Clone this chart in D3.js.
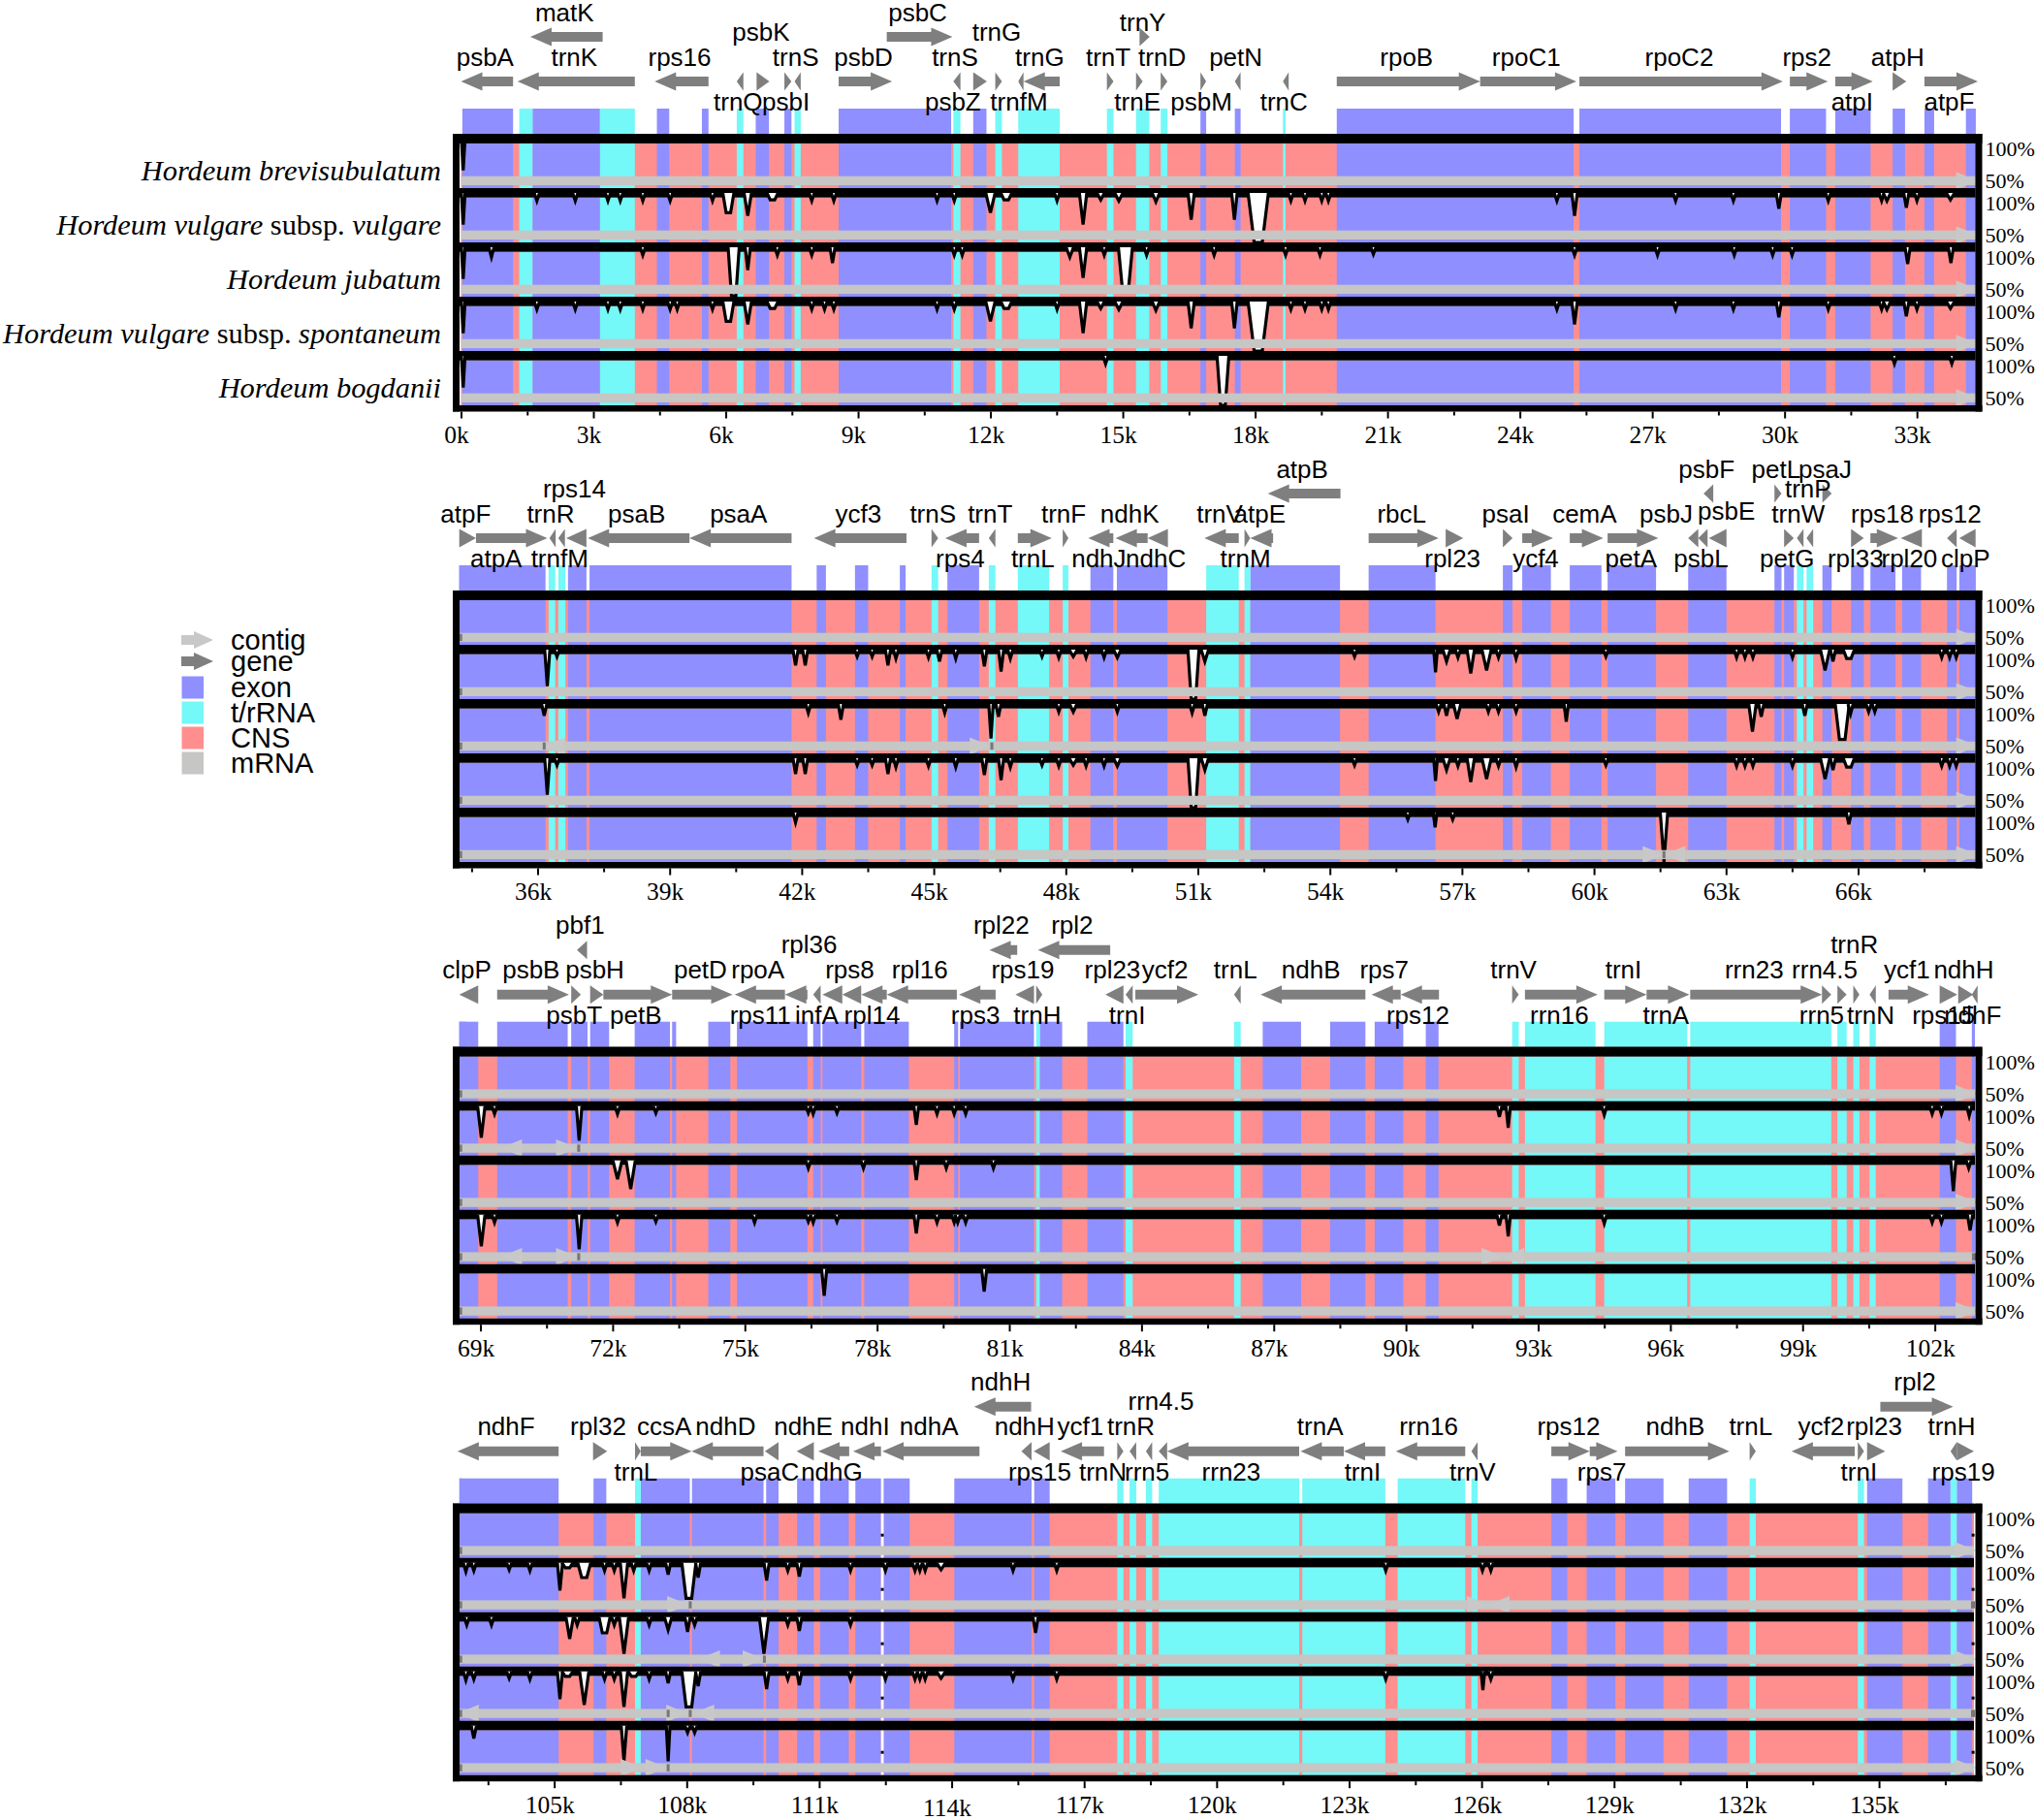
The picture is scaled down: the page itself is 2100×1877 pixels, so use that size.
<!DOCTYPE html>
<html><head><meta charset="utf-8">
<script src="https://cdnjs.cloudflare.com/ajax/libs/d3/7.8.5/d3.min.js"></script>
<style>html,body{margin:0;padding:0;background:#fff}svg{display:block}</style>
</head><body><svg id="c" width="2100" height="1877"></svg>
<script>
const speciesLabels=[
 [["Hordeum brevisubulatum","i"]],
 [["Hordeum vulgare","i"],[" subsp. ","n"],["vulgare","i"]],
 [["Hordeum jubatum","i"]],
 [["Hordeum vulgare","i"],[" subsp. ","n"],["spontaneum","i"]],
 [["Hordeum bogdanii","i"]]
];
const legendItems=["contig","gene","exon","t/rRNA","CNS","mRNA"];
const panelDomains=[[0,34.33],[34.22,68.67],[68.52,102.91],[102.85,137.15]];

const exons=[[0.03,1.18],[1.62,3.15],[4.44,4.72],[5.46,5.61],[6.68,6.98],[7.33,7.49],[8.56,11.11],[11.61,11.91],[16.76,16.89],[17.54,17.67],[19.85,25.22],[25.35,29.92],[30.12,30.94],[31.15,31.95],[32.45,32.73],[33.17,33.39],[34.11,34.33],
[34.22,36.18],[36.69,37.11],[37.18,41.77],[42.34,42.55],[43.21,43.51],[44.23,44.36],[45.31,46.03],[48.56,49.08],[49.16,50.31],[52.19,54.23],[54.88,56.40],[57.93,58.15],[58.37,59.02],[59.45,60.17],[60.31,61.41],[62.14,63.01],[64.10,64.26],[64.32,64.54],[65.19,65.40],[65.84,66.13],[66.28,66.85],[67.00,67.43],[68.02,68.24],[68.30,68.67],
[68.52,68.95],[69.38,70.98],[71.06,71.43],[71.49,71.92],[72.50,73.30],[73.35,73.44],[74.17,74.67],[74.82,76.42],[76.55,76.72],[76.76,77.64],[77.71,78.72],[79.75,79.84],[79.88,81.56],[81.69,82.20],[82.77,83.59],[86.75,87.62],[88.28,89.08],[89.29,89.94],[90.45,90.74],[102.11,102.48],[102.84,102.91],
[102.86,105.10],[105.89,106.18],[106.96,108.07],[108.12,109.74],[109.80,110.08],[110.50,110.88],[111.02,111.67],[111.82,112.40],[112.46,113.05],[114.06,115.81],[115.87,116.22],[127.58,127.94],[128.38,129.03],[129.25,130.12],[130.69,131.56],[134.73,135.53],[136.11,136.62],[136.76,137.11]];
const rnas=[[1.32,1.62],[3.15,3.94],[6.25,6.40],[7.56,7.70],[11.16,11.32],[12.11,12.26],[12.63,13.57],[14.64,14.79],[15.30,15.60],[15.86,16.01],[18.63,18.69],
[36.25,36.40],[36.47,36.63],[44.95,45.10],[46.25,46.40],[46.91,47.62],[47.93,48.06],[51.19,51.93],[52.06,52.19],[64.61,64.76],[64.83,64.98],
[81.61,81.69],[83.64,83.80],[86.10,86.25],[92.41,92.56],[92.70,94.30],[94.50,96.38],[96.45,99.65],[99.79,100.0],[100.15,100.29],[100.52,100.66],
[106.83,106.96],[117.75,117.89],[118.03,118.18],[118.40,118.54],[118.69,121.87],[121.94,123.82],[124.10,125.63],[125.77,125.91],[132.07,132.21],[134.52,134.66],[136.62,136.76]];
const gaps=[[112.40,112.46]];
const darkSpots=[112.43,137.13];

/* name, start, end, strand, label row */
const genesP1=[["psbA",0,1.18,"l","above"],["trnK",1.28,3.94,"l","above"],["matK",1.57,3.21,"l","top"],["rps16",4.39,5.61,"l","above"],["trnQ",6.25,6.40,"l","below"],["psbK",6.70,6.99,"r","mid"],["psbI",7.33,7.49,"r","below"],["trnS",7.56,7.70,"l","above"],["psbD",8.56,9.77,"r","above"],["psbC",9.65,11.14,"r","top"],["trnS",11.16,11.32,"l","above"],["psbZ",11.61,11.92,"r","below"],["trnG",12.11,12.26,"r","mid"],["trnfM",12.63,12.75,"l","below"],["trnG",12.75,13.57,"l","above"],["trnT",14.64,14.79,"r","above"],["trnE",15.30,15.45,"r","below"],["trnY",15.38,15.61,"r","high"],["trnD",15.86,16.01,"r","above"],["psbM",16.76,16.89,"r","below"],["petN",17.54,17.67,"l","above"],["trnC",18.63,18.76,"l","below"],["rpoB",19.85,23.1,"r","above"],["rpoC1",23.1,25.28,"r","above"],["rpoC2",25.35,29.96,"r","above"],["rps2",30.12,30.98,"r","above"],["atpI",31.15,32.0,"r","below"],["atpH",32.45,32.76,"r","above"],["atpF",33.17,34.38,"r","below"]];
const genesP2=[["atpF",34.22,34.60,"r","above"],["atpA",34.60,36.22,"r","below"],["trnR",36.27,36.41,"l","above"],["trnfM",36.47,36.62,"l","below"],["rps14",36.65,37.11,"l","mid"],["psaB",37.14,39.45,"l","above"],["psaA",39.45,41.77,"l","above"],["ycf3",42.28,44.38,"l","above"],["trnS",44.95,45.10,"r","above"],["rps4",45.26,46.03,"l","below"],["trnT",46.25,46.40,"l","above"],["trnL",46.91,47.68,"r","below"],["trnF",47.93,48.06,"r","above"],["ndhJ",48.51,49.08,"l","below"],["ndhK",49.13,49.86,"l","above"],["ndhC",49.86,50.32,"l","below"],["trnV",51.15,51.93,"l","above"],["trnM",52.06,52.19,"r","below"],["atpE",52.19,52.71,"l","above"],["atpB",52.59,54.24,"l","top"],["rbcL",54.88,56.47,"r","above"],["rpl23",56.63,57.03,"r","below"],["psaI",57.93,58.15,"r","above"],["ycf4",58.37,59.07,"r","below"],["cemA",59.45,60.21,"r","above"],["petA",60.31,61.46,"r","below"],["psbJ",62.14,62.37,"l","above"],["psbL",62.37,62.58,"l","below"],["psbE",62.61,63.01,"l","above"],["psbF",62.49,62.71,"l","top"],["petL",64.10,64.26,"r","top"],["petG",64.32,64.54,"r","below"],["trnW",64.61,64.76,"l","above"],["trnP",64.83,64.98,"l","mid"],["psaJ",65.19,65.40,"r","top"],["rpl33",65.84,66.13,"r","below"],["rps18",66.28,66.91,"r","above"],["rpl20",66.97,67.45,"l","below"],["rps12",68.02,68.24,"l","above"],["clpP",68.30,68.67,"l","below"]];
const genesP3=[["clpP",68.52,68.95,"l","above"],["psbB",69.38,71.01,"r","above"],["psbT",71.06,71.28,"r","below"],["pbf1",71.19,71.42,"l","top"],["psbH",71.49,71.79,"r","above"],["petB",71.79,73.35,"r","below"],["petD",73.35,74.72,"r","above"],["rpoA",74.77,75.91,"l","above"],["rps11",75.91,76.42,"l","below"],["rpl36",76.55,76.72,"l","mid"],["infA",76.76,77.21,"l","below"],["rps8",77.21,77.64,"l","above"],["rpl14",77.64,78.22,"l","below"],["rpl16",78.22,79.81,"l","above"],["rps3",79.86,80.69,"l","below"],["rpl22",80.55,81.18,"l","top"],["rpl2",81.65,83.29,"l","top"],["rps19",81.14,81.56,"l","above"],["trnH",81.61,81.75,"r","below"],["rpl23",83.18,83.59,"l","above"],["trnI",83.64,83.80,"l","below"],["ycf2",83.86,85.29,"r","above"],["trnL",86.10,86.25,"l","above"],["ndhB",86.70,89.08,"l","above"],["rps7",89.22,89.88,"l","above"],["rps12",89.88,90.75,"l","below"],["trnV",92.41,92.56,"r","above"],["rrn16",92.70,94.35,"r","below"],["trnI",94.50,95.46,"r","above"],["trnA",95.46,96.43,"r","below"],["rrn23",96.45,99.44,"r","above"],["rrn4.5",99.44,99.65,"r","above"],["rrn5",99.79,100.0,"r","below"],["trnR",100.15,100.29,"r","mid"],["trnN",100.52,100.66,"l","below"],["ycf1",100.95,101.87,"r","above"],["rps15",102.11,102.51,"r","below"],["ndhH",102.53,102.87,"r","above"],["ndhF",102.84,102.97,"l","below"]];
const genesP4=[["ndhF",102.81,105.10,"l","above"],["rpl32",105.88,106.2,"r","above"],["trnL",106.83,106.96,"r","below"],["ccsA",106.96,108.11,"r","above"],["ndhD",108.11,109.74,"l","above"],["psaC",109.77,110.08,"l","below"],["ndhE",110.49,110.88,"l","above"],["ndhG",110.98,111.68,"l","below"],["ndhI",111.77,112.40,"l","above"],["ndhA",112.43,114.63,"l","above"],["ndhH",114.51,115.80,"l","top"],["ndhH",115.58,115.81,"l","above"],["rps15",115.86,116.22,"l","below"],["ycf1",116.47,117.45,"l","above"],["trnN",117.75,117.89,"r","below"],["trnR",118.03,118.18,"l","above"],["rrn5",118.40,118.54,"l","below"],["rrn4.5",118.69,118.88,"l","mid"],["rrn23",118.88,121.87,"l","below"],["trnA",121.9,122.88,"l","above"],["trnI",122.88,123.82,"l","below"],["rrn16",124.06,125.63,"l","above"],["trnV",125.77,125.91,"l","below"],["rps12",127.58,128.45,"r","above"],["rps7",128.45,129.08,"r","below"],["ndhB",129.25,131.61,"r","above"],["trnL",132.07,132.21,"r","above"],["ycf2",133.02,134.45,"l","above"],["trnI",134.52,134.66,"r","below"],["rpl23",134.73,135.14,"r","above"],["rpl2",135.03,136.68,"r","top"],["trnH",136.62,136.76,"l","above"],["rps19",136.76,137.15,"r","below"]];
const labelNudge={ "psbZ|11.61":[-26,0],"atpA|34.6":[-14,0],"psbJ|62.14":[-26,0],"psbE|62.61":[11,-3],"rps11|75.91":[-35,0],"rpl36|76.55":[-6,0],"infA|76.76":[-14,0],"rrn5|99.79":[-19,0],"trnN|117.75":[-16,0],"rps15|102.11":[-3,0] };

/* conservation dips: position (kb), lowest identity (%), width (kb) */
const dipsBrevi=[[0.05,68,.1]];
const dipsVulgare=[[0.05,68,.1],[1.72],[2.59],[3.33],[3.61],[4.12],[4.74],[5.70],[6.06,80,.3],[6.50,77,.2],[7.06,93,.3],[7.95],[8.45],[10.79],[11.18],[12.0,80,.25],[12.36,93,.3],[13.51],[14.10,68,.2],[14.5,93,.2],[14.91,92,.22],[15.75,91,.2],[16.55,73,.17],[17.53,73,.15],[18.07,50,.55],[18.81],[19.13],[19.51],[19.66],[24.84],[25.24,77,.15],[27.53],[28.84],[29.87,84],[30.99],[32.2],[32.32,92,.2],[32.76,85],[33.0],[33.76,93,.22],
[36.22,63,.14],[36.44,93],[41.86,84],[42.08,84],[43.26,93],[43.6,93],[43.96,84],[44.14,91],[44.88],[45.13,88],[45.5,91],[46.15,83],[46.53,78],[46.74,91],[47.46,93],[47.84],[48.17,93,.22],[48.46],[48.87],[49.17,92,.2],[50.9,50,.3],[51.16,88,.2],[54.56,93],[56.4,77,.1],[56.65,88,.2],[56.91,92],[57.2,76,.2],[57.56,79,.25],[57.83],[58.23,91],[60.27,93],[63.24],[63.43],[63.61],[64.51],[65.25,79,.25],[65.43,88],[65.79,91,.3],[67.9],[68.08],[68.23],
[69.02,68,.2],[69.32],[71.24,65,.15],[72.11],[72.98,93],[76.44,93],[76.55],[77.09,93],[78.89,81,.13],[79.36],[79.75],[80.01],[92.12,89],[92.32,78,.12],[94.5,91],[101.94],[102.15],[102.78,90],
[103.0,91],[103.18,92],[103.98,93],[104.45],[105.13,72,.14],[105.3,95,.3],[105.68,85,.35],[106.14],[106.36],[106.58,64,.2],[106.8],[107.15],[107.58,88],[108.05,64,.38],[108.26,85],[109.81,82],[110.29],[110.55,86],[111.71],[112.5],[113.17],[113.28],[113.4],[113.76,93,.25],[115.39],[116.38],[123.83],[126.02],[126.21]];
const dipsJubatum=[[0.05,68,.1],[0.69,90],[4.12],[6.18,51,.3],[6.5,77],[7.17],[7.95],[8.42,84],[11.18],[11.36],[13.8,90,.2],[14.10,69,.2],[14.58],[15.06,55,.38],[15.54],[17.07],[18.69],[19.47],[20.68,93],[25.24],[27.12],[28.86],[29.73],[30.17],[32.79,83],[33.77,84],
[36.15,88],[42.15,91],[42.89,84],[45.25,91],[46.3,65,.12],[46.47,87],[47.84],[48.17,92,.2],[49.17],[50.87,91],[51.16,88],[56.47],[56.65,88],[56.89,85,.2],[57.6],[57.83],[58.23],[59.37,82,.12],[63.6,72,.2],[63.8,87],[64.79,88],[65.64,64,.38],[65.83,90],[66.24],[66.38],
[72.11,81,.25],[72.41,71,.25],[76.44],[77.69],[78.89,80,.13],[79.57],[80.64],[102.42,69,.14],[102.77],
[103.02],[103.58],[105.35,78,.2],[105.52],[106.14,84,.3],[106.36],[106.58,63,.25],[107.15],[107.58,87,.2],[108.02,85],[108.18],[109.75,63,.25],[110.29],[110.55,86],[111.71],[115.9,84]];
const dipsSpontaneum=[[0.05,68,.1],[1.72],[2.59],[3.33],[3.61],[4.12],[4.74],[4.9],[5.70],[6.06,80,.3],[6.50,77,.2],[7.06,93,.3],[7.95],[8.24],[8.45],[10.79],[11.18],[12.0,80,.25],[12.36,93,.3],[13.51],[14.10,68,.2],[14.5,93,.2],[14.91,92,.22],[15.75,91,.2],[16.55,73,.17],[17.53,73,.15],[18.07,50,.55],[18.81],[19.13],[19.51],[19.66],[24.84],[25.24,77,.15],[27.53],[28.84],[29.87,84],[30.99],[32.2],[32.32,92,.2],[32.76,85],[33.0],[33.76,93,.22],
[36.22,63,.14],[36.44,93],[41.86,84],[42.08,84],[43.26,93],[43.6,93],[43.96,84],[44.14,91],[44.88],[45.5,91],[46.15,83],[46.53,78],[46.74,91],[47.46,93],[47.84],[48.17,93,.22],[48.46],[48.87],[49.17,92,.2],[50.9,50,.3],[51.16,88,.2],[54.56,93],[56.4,77,.1],[56.65,88,.2],[56.91,92],[57.2,76,.2],[57.56,79,.25],[57.83],[58.23,91],[60.27,93],[63.24],[63.43],[63.61],[64.51],[65.25,79,.25],[65.43,88],[65.79,91,.3],[67.9],[68.08],[68.23],
[69.02,68,.2],[69.32],[71.24,65,.15],[72.11],[72.98,93],[75.22],[76.44,93],[76.55],[77.09,93],[78.89,81,.13],[79.36],[79.75],[79.83],[80.01],[92.12,89],[92.32,78,.12],[94.5,91],[101.94],[102.15],[102.8,84],
[103.0,91],[103.18,92],[103.98,93],[104.45],[105.13,72,.14],[105.3,95,.3],[105.68,66,.25],[106.14],[106.36],[106.58,64,.2],[106.8,95,.3],[107.15],[107.58,88],[108.05,64,.38],[108.26,85],[109.81,82],[110.29],[110.55,86],[111.71],[112.5],[113.17],[113.28],[113.4],[113.76,93,.25],[115.39],[116.38],[123.83],[126.03,81,.1],[126.21]];
const dipsBogdanii=[[0.05,68,.1],[14.61],[17.27,50,.32],[32.49],[33.79],[41.86,90],[55.77,93],[56.39,85,.1],[56.79,93],[61.59,50,.2],[65.79,88],[76.8,73,.14],[80.43,77,.14],[103.18,87],[106.58,64,.15],[107.58,64,.1],[108.02,93],[108.18,93]];
const allDips=[dipsBrevi,dipsVulgare,dipsJubatum,dipsSpontaneum,dipsBogdanii];

/* contig breaks: panel, position (kb), kind: r = head ends here, l = head starts here, t = end tick */
const contigBreaks=[[],
 [[2,71.2,"r"],[2,69.46,"l"],[2,71.23,"t"],[3,108.08,"t"],[3,108.04,"r"],[3,126.15,"r"],[3,126.15,"l"]],
 [[1,36.15,"t"],[1,36.14,"l"],[1,46.3,"r"],[1,46.32,"t"],[3,108.27,"l"],[3,109.75,"r"],[3,109.76,"t"]],
 [[2,71.2,"r"],[2,69.46,"l"],[2,71.23,"t"],[2,92.2,"r"],[2,92.2,"l"],[3,102.81,"l"],[3,107.58,"t"],[3,108.02,"r"],[3,108.08,"t"],[3,108.14,"l"]],
 [[1,61.59,"r"],[1,61.59,"l"],[1,61.59,"t"],[3,106.99,"r"],[3,107.55,"r"],[3,107.58,"t"]]
];
const endTickTracks=["2-3","3-1","3-3"];
const axisTickStep=1.5;

const COL={exon:"#8f8fff",rna:"#74f8f8",cns:"#ff8f8f",mrna:"#c6c6c4",gene:"#7f7f7f",contig:"#c8c8c8"};
const SANS="'Liberation Sans',Arial,sans-serif", SERIF="'Liberation Serif','Times New Roman',serif";
const panelTops=[138,609,1079.7,1550.7];
const panelRanges=[[475.5,2037.7],[473.7,2037.7],[473.7,2037],[473.7,2036]];
const frameL=467,frameR=2044.5,trackH=56,nTracks=5,bandH=9.7;
const labelRows={below:33,above:79.5,mid:105.5,high:115.5,top:125.5};
const allGenes=[genesP1,genesP2,genesP3,genesP4];

const svg=d3.select("#c");
svg.append("rect").attr("width",2100).attr("height",1877).attr("fill","#fff");

function arrowPath(x0,x1,cy,dir,barH=10,headH=19,headL=22){
  const w=Math.max(x1-x0,1), hl=Math.min(headL,w);
  const pts = dir==="r"
   ? [[x0,cy-barH/2],[x0+w-hl,cy-barH/2],[x0+w-hl,cy-headH/2],[x0+w,cy],[x0+w-hl,cy+headH/2],[x0+w-hl,cy+barH/2],[x0,cy+barH/2]]
   : [[x0+w,cy-barH/2],[x0+hl,cy-barH/2],[x0+hl,cy-headH/2],[x0,cy],[x0+hl,cy+headH/2],[x0+hl,cy+barH/2],[x0+w,cy+barH/2]];
  return d3.line()(pts)+"Z";
}

panelDomains.forEach((dom,p)=>{
  const top=panelTops[p];
  const x=d3.scaleLinear().domain(dom).range(panelRanges[p]);
  const g=svg.append("g").attr("class","panel");
  const inDom=d=>d[1]>dom[0]&&d[0]<dom[1];
  const clamp=v=>Math.max(dom[0],Math.min(dom[1],v));
  const spanRect=(sel,data,y,h,fill)=>sel.selectAll(null).data(data.filter(inDom)).join("rect")
     .attr("x",d=>x(clamp(d[0]))).attr("width",d=>Math.max(1,x(clamp(d[1]))-x(clamp(d[0]))))
     .attr("y",y).attr("height",h).attr("fill",fill);

  /* annotation strip */
  const strip=g.append("g");
  spanRect(strip,exons,top-26,26,COL.exon);
  spanRect(strip,rnas,top-26,26,COL.rna);

  /* tracks */
  d3.range(nTracks).forEach(t=>{
    const y0=top+t*trackH;
    const tg=g.append("g").attr("class","track");
    const cy0=y0+bandH, cyH=trackH-bandH;
    tg.append("rect").attr("x",x(dom[0])).attr("width",x(dom[1])-x(dom[0])).attr("y",cy0).attr("height",cyH).attr("fill",COL.cns);
    spanRect(tg,exons,cy0,cyH,COL.exon);
    spanRect(tg,rnas,cy0,cyH,COL.rna);
    spanRect(tg,gaps,cy0,cyH,"#fff");
    tg.selectAll(null).data(darkSpots.filter(k=>k>dom[0]&&k<dom[1]+.1)).join("rect")
      .attr("x",k=>x(k)-1.5).attr("width",3).attr("y",y0+31).attr("height",3).attr("fill","#000");
    tg.append("rect").attr("x",frameL).attr("width",x(dom[1])-frameL).attr("y",y0).attr("height",bandH).attr("fill","#000");
    /* conservation curve */
    const yv=d3.scaleLinear().domain([100,50]).range([y0+5,y0+trackH]);
    const line=d3.line().x(d=>x(d[0])).y(d=>yv(d[1]));
    tg.selectAll(null).data(allDips[t].filter(d=>d[0]>=dom[0]&&d[0]<dom[1])).join("path")
      .attr("d",([k,v=92,w=.14])=> w>=.3
         ? line([[k-w*.42,100],[k-w/6,v],[k+w/6,v],[k+w*.42,100]])
         : line([[k-w*.42,100],[k,v],[k+w*.42,100]]))
      .attr("fill","#fff").attr("stroke","#000").attr("stroke-width",3.2).attr("stroke-linejoin","miter");
    /* contig bar */
    const barY=y0+43.7,barH=9.4,barC=barY+barH/2;
    tg.append("rect").attr("x",x(dom[0])).attr("width",x(dom[1])-x(dom[0])).attr("y",barY).attr("height",barH).attr("fill",COL.mrna);
    const marks=contigBreaks[t].filter(m=>m[0]===p);
    tg.selectAll(null).data(marks.filter(m=>m[2]!=="t")).join("path")
      .attr("d",m=>m[2]==="r"
        ? arrowPath(x(m[1])-22,x(m[1]),barC,"r",barH,18,22)
        : arrowPath(x(m[1]),x(m[1])+22,barC,"l",barH,18,22))
      .attr("fill",COL.contig);
    tg.selectAll(null).data(marks.filter(m=>m[2]==="t")).join("rect")
      .attr("x",m=>x(m[1])-1.5).attr("width",3).attr("y",barY+1).attr("height",barH-2).attr("fill","#777");
    if(p>0) tg.append("rect").attr("x",x(dom[0])).attr("width",3).attr("y",barY+1).attr("height",barH-2).attr("fill","#777");
    const key=p+"-"+t;
    if(endTickTracks.includes(key)){
      tg.append("rect").attr("x",x(dom[1])-3).attr("width",4).attr("y",barY+1).attr("height",barH-2).attr("fill","#777");
    } else {
      tg.append("path").attr("d",arrowPath(x(dom[1])-20,x(dom[1])+2,barC,"r",barH,18,22)).attr("fill",COL.contig);
    }
    /* percent labels */
    tg.selectAll(null).data([["100%",15.5],["50%",48.5]]).join("text")
      .attr("x",2047.5).attr("y",d=>y0+d[1]).attr("dy","0.35em")
      .attr("font-family",SERIF).attr("font-size",22).attr("fill","#000").text(d=>d[0]);
  });

  /* frame */
  const botY=top+nTracks*trackH;
  g.append("rect").attr("x",frameL).attr("y",top).attr("width",7).attr("height",botY-top+6.5).attr("fill","#000");
  g.append("rect").attr("x",frameR-7).attr("y",top).attr("width",7).attr("height",botY-top+6.5).attr("fill","#000");
  g.append("rect").attr("x",frameL).attr("y",top).attr("width",frameR-frameL).attr("height",bandH).attr("fill","#000");
  g.append("rect").attr("x",frameL).attr("y",botY).attr("width",frameR-frameL).attr("height",6.5).attr("fill","#000");

  /* axes */
  const first=Math.ceil(dom[0]/axisTickStep)*axisTickStep;
  const tv=d3.range(first,dom[1]+.001,axisTickStep);
  const major=tv.filter(v=>v%3===0), minor=tv.filter(v=>v%3!==0);
  const axisY=botY+6.5;
  const ax=g.append("g").attr("transform",`translate(0,${axisY})`)
    .call(d3.axisBottom(x).tickValues(major).tickSize(7).tickSizeOuter(0).tickFormat(v=>v+"k"));
  ax.select(".domain").remove();
  ax.selectAll("line").attr("stroke","#000").attr("stroke-width",2);
  ax.selectAll("text").attr("font-family",SERIF).attr("font-size",25.5).attr("fill","#000")
    .attr("dx",-5).attr("y",10).attr("dy",d=>d===114?"1.0em":"0.88em");
  const ax2=g.append("g").attr("transform",`translate(0,${axisY})`)
    .call(d3.axisBottom(x).tickValues(minor).tickSize(4).tickSizeOuter(0).tickFormat(""));
  ax2.select(".domain").remove();
  ax2.selectAll("line").attr("stroke","#000").attr("stroke-width",2);

  /* genes */
  const genes=allGenes[p];
  const upper=new Set(["top","high"]);
  const laneY=d=>top-(upper.has(d[4])?100:54);
  g.selectAll(null).data(genes).join("path")
    .attr("d",d=>arrowPath(x(d[1]),x(d[2]),laneY(d),d[3]))
    .attr("fill",COL.gene);
  g.selectAll(null).data(genes).join("text")
    .attr("x",d=>x((d[1]+d[2])/2)-2+((labelNudge[d[0]+"|"+d[1]]||[0,0])[0]))
    .attr("y",d=>top-labelRows[d[4]]+((labelNudge[d[0]+"|"+d[1]]||[0,0])[1]))
    .attr("dy","0.35em").attr("text-anchor","middle")
    .attr("font-family",SANS).attr("font-size",26).attr("fill","#000")
    .text(d=>d[0]);
});

/* species names */
const names=svg.append("g");
speciesLabels.forEach((parts,i)=>{
  const t=names.append("text").attr("x",455).attr("y",panelTops[0]+37.5+i*trackH).attr("dy","0.35em")
    .attr("text-anchor","end").attr("font-family",SERIF).attr("font-size",30.4).attr("fill","#000").attr("xml:space","preserve");
  parts.forEach(([s,k])=>t.append("tspan").attr("font-style",k==="i"?"italic":"normal").text(s));
});

/* legend */
const leg=svg.append("g");
const legY=[660,682,709,735,761,787];
const legFill=[COL.contig,COL.gene,COL.exon,COL.rna,COL.cns,COL.mrna];
legendItems.forEach((s,i)=>{
  if(i<2) leg.append("path").attr("d",arrowPath(187,220,legY[i],"r",10,18,20)).attr("fill",legFill[i]);
  else leg.append("rect").attr("x",187.5).attr("y",legY[i]-11.5).attr("width",22.5).attr("height",23).attr("fill",legFill[i]);
  leg.append("text").attr("x",238).attr("y",legY[i]).attr("dy","0.35em").attr("font-family",SANS).attr("font-size",29).attr("fill","#000").text(s);
});
</script></body></html>
